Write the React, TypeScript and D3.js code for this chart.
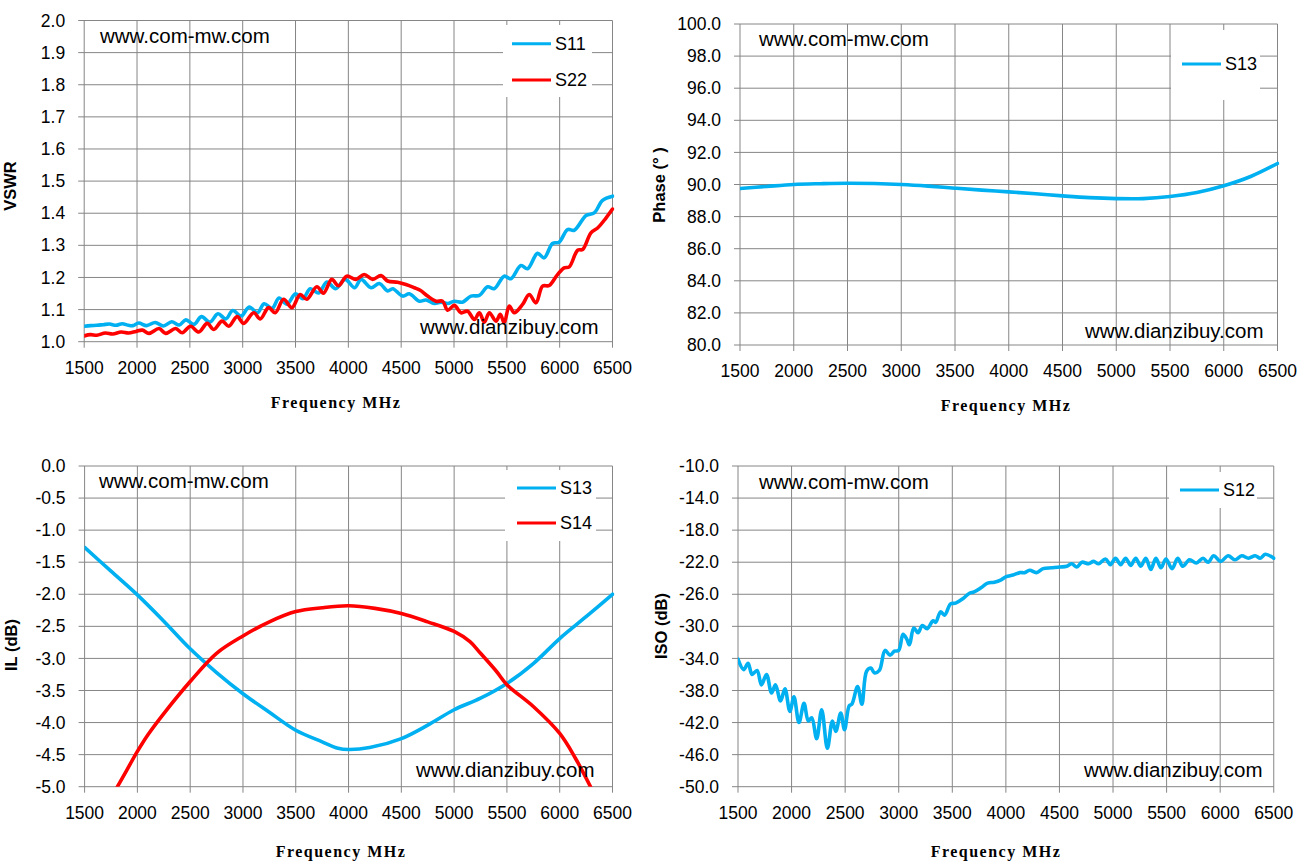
import React from "react";
import * as d3 from "d3";

// ---------- tick labels ----------
const FREQ_TICKS = [1500, 2000, 2500, 3000, 3500, 4000, 4500, 5000, 5500, 6000, 6500];
const VSWR_TICKS = [1.0, 1.1, 1.2, 1.3, 1.4, 1.5, 1.6, 1.7, 1.8, 1.9, 2.0];
const PHASE_TICKS = [80, 82, 84, 86, 88, 90, 92, 94, 96, 98, 100];
const IL_TICKS = [-5.0, -4.5, -4.0, -3.5, -3.0, -2.5, -2.0, -1.5, -1.0, -0.5, 0.0];
const ISO_TICKS = [-50, -46, -42, -38, -34, -30, -26, -22, -18, -14, -10];

// ---------- series (frequency MHz, value) ----------
const S11_VSWR: [number, number][] = [
  [1500, 1.048], [1560, 1.05], [1620, 1.051], [1680, 1.053], [1740, 1.055], [1800, 1.051], [1860, 1.056],
  [1920, 1.051], [1960, 1.05], [2016, 1.058], [2090, 1.05], [2172, 1.06], [2250, 1.049], [2328, 1.062],
  [2400, 1.052], [2462, 1.068], [2540, 1.054], [2609, 1.078], [2690, 1.061], [2766, 1.087], [2840, 1.071],
  [2906, 1.097], [2985, 1.08], [3062, 1.108], [3140, 1.09], [3203, 1.118], [3280, 1.104], [3344, 1.136],
  [3420, 1.117], [3500, 1.149], [3570, 1.134], [3640, 1.165], [3720, 1.152], [3797, 1.186], [3880, 1.165],
  [3969, 1.194], [4060, 1.168], [4120, 1.194], [4215, 1.168], [4293, 1.181], [4372, 1.158], [4420, 1.165],
  [4514, 1.142], [4577, 1.149], [4672, 1.126], [4735, 1.13], [4813, 1.119], [4877, 1.123], [4940, 1.119],
  [5003, 1.126], [5080, 1.123], [5160, 1.142], [5240, 1.144], [5318, 1.171], [5381, 1.165], [5475, 1.204],
  [5538, 1.196], [5633, 1.237], [5696, 1.227], [5790, 1.275], [5853, 1.261], [5932, 1.306], [5995, 1.31],
  [6075, 1.349], [6138, 1.347], [6250, 1.393], [6327, 1.401], [6406, 1.44], [6500, 1.453],
];

const S22_VSWR: [number, number][] = [
  [1500, 1.018], [1560, 1.022], [1620, 1.02], [1700, 1.027], [1770, 1.024], [1850, 1.03], [1920, 1.027],
  [1990, 1.032], [2050, 1.036], [2113, 1.026], [2208, 1.041], [2271, 1.026], [2365, 1.041], [2428, 1.028],
  [2506, 1.048], [2585, 1.03], [2664, 1.057], [2727, 1.038], [2805, 1.064], [2868, 1.048], [2947, 1.078],
  [3010, 1.057], [3104, 1.09], [3167, 1.071], [3245, 1.106], [3308, 1.09], [3387, 1.132], [3466, 1.106],
  [3544, 1.147], [3607, 1.132], [3702, 1.171], [3764, 1.151], [3843, 1.194], [3906, 1.174], [3985, 1.204],
  [4072, 1.194], [4150, 1.209], [4230, 1.194], [4309, 1.206], [4372, 1.189], [4466, 1.185], [4545, 1.178],
  [4624, 1.168], [4680, 1.16], [4750, 1.142], [4829, 1.126], [4892, 1.126], [4940, 1.098], [5003, 1.113],
  [5066, 1.09], [5129, 1.095], [5192, 1.069], [5240, 1.09], [5287, 1.061], [5334, 1.09], [5397, 1.064],
  [5438, 1.085], [5475, 1.059], [5523, 1.111], [5570, 1.09], [5649, 1.116], [5712, 1.147], [5775, 1.121],
  [5838, 1.173], [5901, 1.175], [5980, 1.209], [6043, 1.23], [6091, 1.233], [6170, 1.285], [6217, 1.287],
  [6296, 1.339], [6359, 1.354], [6438, 1.385], [6500, 1.413],
];

const S13_PHASE: [number, number][] = [
  [1500, 89.75], [1750, 89.88], [2000, 90.0], [2250, 90.05], [2500, 90.08], [2750, 90.06], [3000, 90.0],
  [3250, 89.9], [3500, 89.77], [3750, 89.65], [4000, 89.54], [4250, 89.42], [4500, 89.29], [4750, 89.18],
  [5000, 89.12], [5250, 89.12], [5500, 89.25], [5750, 89.5], [6000, 89.92], [6250, 90.5], [6500, 91.31],
];

const S13_IL: [number, number][] = [
  [1500, -1.268], [1750, -1.64], [2000, -2.01], [2250, -2.42], [2500, -2.85], [2750, -3.22], [3000, -3.55],
  [3250, -3.84], [3500, -4.12], [3750, -4.3], [3900, -4.4], [4000, -4.42], [4200, -4.39], [4500, -4.25],
  [4750, -4.04], [5000, -3.8], [5250, -3.62], [5500, -3.39], [5750, -3.08], [6000, -2.69], [6250, -2.35],
  [6500, -2.0],
];

const S14_IL: [number, number][] = [
  [1790, -5.06], [1900, -4.74], [2000, -4.45], [2100, -4.19], [2250, -3.86], [2500, -3.36], [2750, -2.92],
  [3000, -2.65], [3250, -2.43], [3500, -2.27], [3750, -2.21], [4000, -2.18], [4250, -2.22], [4500, -2.3],
  [4750, -2.43], [5000, -2.58], [5150, -2.74], [5250, -2.92], [5400, -3.2], [5500, -3.41], [5750, -3.75],
  [6000, -4.17], [6150, -4.56], [6310, -5.06],
];

const S12_ISO: [number, number][] = [
  [1500, -34.1], [1553, -35.4], [1594, -34.6], [1631, -36.0], [1678, -35.5], [1719, -37.3], [1766, -36.0],
  [1813, -38.3], [1850, -37.3], [1897, -39.3], [1938, -37.8], [1984, -40.6], [2022, -38.8], [2069, -42.0],
  [2116, -39.6], [2156, -41.8], [2188, -41.4], [2234, -44.0], [2281, -40.4], [2334, -45.2], [2381, -41.8],
  [2413, -43.1], [2459, -40.8], [2494, -42.9], [2538, -39.9], [2563, -39.7], [2616, -37.5], [2656, -39.7],
  [2700, -35.6], [2741, -35.2], [2772, -35.8], [2819, -35.5], [2872, -33.0], [2919, -33.6], [2959, -33.1],
  [3000, -33.0], [3040, -31.0], [3075, -31.6], [3100, -32.3], [3140, -30.2], [3180, -30.8], [3220, -29.9],
  [3265, -30.3], [3320, -29.3], [3345, -29.5], [3390, -28.2], [3428, -28.6], [3484, -27.2], [3531, -27.1],
  [3594, -26.6], [3657, -25.9], [3704, -25.7], [3767, -25.2], [3830, -24.6], [3893, -24.5], [3956, -24.2],
  [4003, -23.8], [4066, -23.6], [4130, -23.3], [4175, -23.3], [4222, -23.0], [4285, -23.3], [4348, -22.8],
  [4427, -22.7], [4505, -22.6], [4568, -22.5], [4615, -22.2], [4662, -22.6], [4710, -22.0], [4772, -22.2],
  [4819, -21.9], [4866, -22.2], [4929, -21.6], [4976, -22.3], [5023, -21.5], [5071, -22.3], [5118, -21.5],
  [5165, -22.4], [5212, -21.5], [5259, -22.5], [5306, -21.5], [5353, -22.9], [5400, -21.5], [5447, -22.7],
  [5494, -21.6], [5551, -22.8], [5604, -21.5], [5651, -22.5], [5714, -21.7], [5777, -22.1], [5840, -21.5],
  [5887, -22.0], [5940, -21.2], [6003, -21.9], [6075, -21.2], [6138, -21.7], [6201, -21.2], [6264, -21.5],
  [6327, -21.2], [6374, -21.5], [6421, -21.0], [6500, -21.5],
];

const BLUE = "#00B0F0";
const RED = "#FF0000";
const GRID = "#868686";
const TICK_FONT = "'Liberation Sans', Arial, sans-serif";

type Series = { name: string; color: string; data: [number, number][] };

type PanelProps = {
  id: string;
  x0: number; x1: number; y0: number; y1: number;
  yMin: number; yMax: number; yTicks: number[];
  series: Series[];
  yTitle: string; yTitleX: number; yTitleY: number;
  freqX: number; freqY: number;
  legend: { x: number; y: number; w: number; h: number; lineX: number; itemY: number[] };
  wm1: [number, number]; wm2: [number, number];
};

// hyphen-minus like the original, one decimal
const fmt1 = (v: number) => v.toFixed(1);

function Panel(p: PanelProps) {
  const x = d3.scaleLinear().domain([1500, 6500]).range([p.x0, p.x1]);
  const y = d3.scaleLinear().domain([p.yMin, p.yMax]).range([p.y1, p.y0]);
  return (
    <g>
      <defs>
        <clipPath id={p.id}>
          <rect x={p.x0} y={p.y0 - 2} width={p.x1 - p.x0 + 2} height={p.y1 - p.y0 + 2} />
        </clipPath>
      </defs>
      {p.yTicks.map((t) => (
        <line key={"h" + t} x1={p.x0 - 6} x2={p.x1} y1={y(t)} y2={y(t)} stroke={GRID} strokeWidth={1} />
      ))}
      {FREQ_TICKS.map((t) => (
        <line key={"v" + t} x1={x(t)} x2={x(t)} y1={p.y0} y2={p.y1 + 6} stroke={GRID} strokeWidth={1} />
      ))}
      {p.yTicks.map((t) => (
        <text key={"yl" + t} x={p.x0 - 19} y={y(t)} dy="0.35em" textAnchor="end"
          fontFamily={TICK_FONT} fontSize={17.5} fill="#000">{fmt1(t)}</text>
      ))}
      {FREQ_TICKS.map((t) => (
        <text key={"xl" + t} x={x(t)} y={p.y1 + 26} dy="0.35em" textAnchor="middle"
          fontFamily={TICK_FONT} fontSize={17.5} fill="#000">{t}</text>
      ))}
      <text x={p.wm1[0]} y={p.wm1[1]} fontFamily={TICK_FONT} fontSize={20.5} fill="#000">www.com-mw.com</text>
      <g clipPath={`url(#${p.id})`}>
        {p.series.map((s) => {
          const gen = d3.line<[number, number]>()
            .x((d) => x(d[0]))
            .y((d) => y(d[1]))
            .curve(d3.curveCatmullRom.alpha(0.5));
          return <path key={s.name} d={gen(s.data) || ""} fill="none" stroke={s.color}
            strokeWidth={3.6} strokeLinejoin="round" strokeLinecap="round" />;
        })}
      </g>
      <text x={p.wm2[0]} y={p.wm2[1]} fontFamily={TICK_FONT} fontSize={20.5} fill="#000">www.dianzibuy.com</text>
      <rect x={p.legend.x} y={p.legend.y} width={p.legend.w} height={p.legend.h} fill="#fff" />
      {p.series.map((s, i) => (
        <g key={"lg" + s.name}>
          <line x1={p.legend.lineX} x2={p.legend.lineX + 39} y1={p.legend.itemY[i]} y2={p.legend.itemY[i]}
            stroke={s.color} strokeWidth={3} />
          <text x={p.legend.lineX + 43} y={p.legend.itemY[i]} dy="0.36em" fontFamily={TICK_FONT}
            fontSize={18} fill="#000">{s.name}</text>
        </g>
      ))}
      <text transform={`translate(${p.yTitleX},${p.yTitleY}) rotate(-90)`} textAnchor="middle" dy="0.35em"
        fontFamily={TICK_FONT} fontWeight="bold" fontSize={16.5} fill="#000">{p.yTitle}</text>
      <text x={p.freqX} y={p.freqY} dy="0.35em" textAnchor="middle"
        fontFamily="'Liberation Serif', 'DejaVu Serif', serif" fontWeight="bold" fontSize={16}
        letterSpacing={1.5} fill="#000">Frequency MHz</text>
    </g>
  );
}

export default function App() {
  return (
    <div style={{ position: "absolute", left: 0, top: 0, background: "#fff" }}>
      <svg width={1300} height={865} viewBox="0 0 1300 865" style={{ display: "block" }}>
        <rect width={1300} height={865} fill="#fff" />
        <Panel id="c1" x0={84.2} x1={612.5} y0={20.5} y1={341.7} yMin={1.0} yMax={2.0} yTicks={VSWR_TICKS}
          series={[{ name: "S11", color: BLUE, data: S11_VSWR }, { name: "S22", color: RED, data: S22_VSWR }]}
          yTitle="VSWR" yTitleX={10} yTitleY={186} freqX={336} freqY={402}
          legend={{ x: 503, y: 25, w: 89, h: 72, lineX: 512, itemY: [43.7, 80] }}
          wm1={[100, 43]} wm2={[420, 334]} />
        <Panel id="c2" x0={740} x1={1277.5} y0={24} y1={345} yMin={80} yMax={100} yTicks={PHASE_TICKS}
          series={[{ name: "S13", color: BLUE, data: S13_PHASE }]}
          yTitle="Phase (° )" yTitleX={659} yTitleY={185} freqX={1006} freqY={405}
          legend={{ x: 1171, y: 30, w: 89, h: 70, lineX: 1182, itemY: [64] }}
          wm1={[759, 46]} wm2={[1085, 338]} />
        <Panel id="c3" x0={84.6} x1={612.5} y0={466} y1={786.7} yMin={-5} yMax={0} yTicks={IL_TICKS}
          series={[{ name: "S13", color: BLUE, data: S13_IL }, { name: "S14", color: RED, data: S14_IL }]}
          yTitle="IL (dB)" yTitleX={11} yTitleY={645} freqX={341} freqY={851}
          legend={{ x: 505, y: 470, w: 91, h: 71, lineX: 517, itemY: [488, 523] }}
          wm1={[99, 488]} wm2={[416, 777]} />
        <Panel id="c4" x0={738} x1={1273.75} y0={466} y1={786.7} yMin={-50} yMax={-10} yTicks={ISO_TICKS}
          series={[{ name: "S12", color: BLUE, data: S12_ISO }]}
          yTitle="ISO (dB)" yTitleX={661} yTitleY={626} freqX={996} freqY={851}
          legend={{ x: 1169, y: 472, w: 88, h: 36, lineX: 1180, itemY: [490] }}
          wm1={[759, 489]} wm2={[1084, 777]} />
      </svg>
    </div>
  );
}
